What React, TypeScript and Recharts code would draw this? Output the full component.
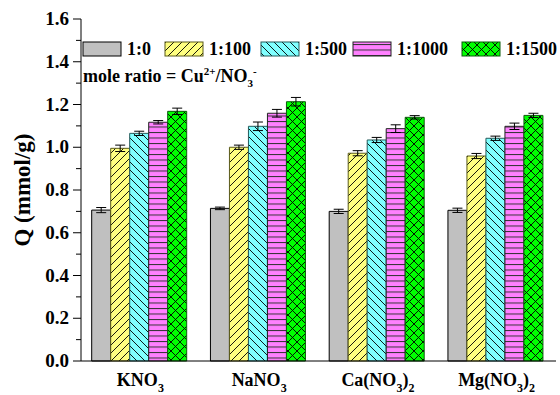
import React from 'react';
import { BarChart, Bar, XAxis, YAxis, ErrorBar, Legend } from 'recharts';

const salts = ['KNO3', 'NaNO3', 'Ca(NO3)2', 'Mg(NO3)2'];

// Q (mmol/g) for each mole ratio Cu2+/NO3-
const ratio0 = [0.706, 0.714, 0.700, 0.705];
const ratio100 = [0.995, 1.000, 0.972, 0.959];
const ratio500 = [1.065, 1.098, 1.034, 1.042];
const ratio1000 = [1.117, 1.159, 1.087, 1.098];
const ratio1500 = [1.168, 1.213, 1.140, 1.149];

const err0 = [0.012, 0.006, 0.010, 0.010];
const err100 = [0.015, 0.010, 0.012, 0.012];
const err500 = [0.010, 0.020, 0.012, 0.010];
const err1000 = [0.008, 0.018, 0.018, 0.015];
const err1500 = [0.015, 0.020, 0.008, 0.010];

const yTicks = [0, 0.1, 0.2, 0.3, 0.4, 0.5, 0.6, 0.7, 0.8, 0.9, 1.0, 1.1, 1.2, 1.3, 1.4, 1.5, 1.6];

const data = salts.map((salt, i) => ({
    salt,
    r0: ratio0[i], e0: err0[i],
    r100: ratio100[i], e100: err100[i],
    r500: ratio500[i], e500: err500[i],
    r1000: ratio1000[i], e1000: err1000[i],
    r1500: ratio1500[i], e1500: err1500[i],
}));

const series = [
    { key: 'r0', err: 'e0', name: '1:0', fill: '#C0C0C0', stroke: '#000000' },
    { key: 'r100', err: 'e100', name: '1:100', fill: 'url(#pYellow)', stroke: '#5a5a1a' },
    { key: 'r500', err: 'e500', name: '1:500', fill: 'url(#pCyan)', stroke: '#245a5a' },
    { key: 'r1000', err: 'e1000', name: '1:1000', fill: 'url(#pPink)', stroke: '#222222' },
    { key: 'r1500', err: 'e1500', name: '1:1500', fill: 'url(#pGreen)', stroke: '#0a5a0a' },
];

const FONT = '"Liberation Serif", "Times New Roman", serif';

// digits in the formula are subscripts
function FormulaTick({ x, y, payload }: any) {
    const parts = String(payload.value).match(/(\d+|[^\d]+)/g) || [];
    let shifted = false;
    return (
        <text x={x} y={y + 17} textAnchor="middle" fontFamily={FONT} fontWeight="bold" fontSize={18} fill="#000">
            {parts.map((p, i) => {
                const isSub = /^\d+$/.test(p);
                let dy = 0;
                if (isSub && !shifted) { dy = 6; shifted = true; }
                else if (!isSub && shifted) { dy = -6; shifted = false; }
                return (
                    <tspan key={i} dy={dy} fontSize={isSub ? 12 : 18}>{p}</tspan>
                );
            })}
        </text>
    );
}

// x here is the label anchor: tickSize (6) + tickMargin (6) left of the axis line
function QTick({ x, y, payload }: any) {
    const v = payload.value as number;
    const major = Math.round(v * 10) % 2 === 0;
    return (
        <g>
            <line x1={x + (major ? 4 : 7)} x2={x + 12} y1={y} y2={y} stroke="#000" strokeWidth={1} />
            {major && (
                <text x={x} y={y} dy={6} textAnchor="end" fontFamily={FONT} fontWeight="bold" fontSize={19} fill="#000">
                    {v.toFixed(1)}
                </text>
            )}
        </g>
    );
}

function RatioLegend() {
    const pos = [83, 165, 261, 353, 462];
    return (
        <svg width={560} height={100} style={{ display: 'block' }}>
            {series.map((s, i) => (
                <g key={s.key}>
                    <rect x={pos[i]} y={42} width={38} height={14} fill={s.fill} stroke={s.stroke} strokeWidth={1} />
                    <text x={pos[i] + 44} y={55} fontFamily={FONT} fontWeight="bold" fontSize={18} fill="#000">{s.name}</text>
                </g>
            ))}
            <text x={83} y={82} fontFamily={FONT} fontWeight="bold" fontSize={18} fill="#000">
                mole ratio = Cu
                <tspan dy={-7} fontSize={11}>2+</tspan>
                <tspan dy={7}>/NO</tspan>
                <tspan dy={5} fontSize={11}>3</tspan>
                <tspan dy={-12} fontSize={11}>-</tspan>
            </text>
        </svg>
    );
}

export default function App() {
    return (
        <div style={{ position: 'absolute', left: 0, top: 0, width: 560, height: 395, background: '#fff' }}>
            <BarChart
                width={560}
                height={395}
                data={data}
                margin={{ top: 19, right: 4, left: 31, bottom: 0 }}
                barCategoryGap="9%"
                barGap={0}
            >
                <defs>
                    <pattern id="pYellow" patternUnits="userSpaceOnUse" width={8} height={8}>
                        <rect width={8} height={8} fill="#FFFF80" />
                        <path d="M0,8 L8,0 M-2,2 L2,-2 M6,10 L10,6" stroke="#000" strokeWidth={0.9} />
                    </pattern>
                    <pattern id="pCyan" patternUnits="userSpaceOnUse" width={8} height={8}>
                        <rect width={8} height={8} fill="#80FFFF" />
                        <path d="M0,0 L8,8 M-2,6 L2,10 M6,-2 L10,2" stroke="#000" strokeWidth={0.9} />
                    </pattern>
                    <pattern id="pPink" patternUnits="userSpaceOnUse" width={8} height={5.5}>
                        <rect width={8} height={5.5} fill="#FF80FF" />
                        <line x1={0} x2={8} y1={0.5} y2={0.5} stroke="#333" strokeWidth={1} />
                    </pattern>
                    <pattern id="pGreen" patternUnits="userSpaceOnUse" width={9} height={9}>
                        <rect width={9} height={9} fill="#00FF00" />
                        <path d="M0,9 L9,0 M-2,2 L2,-2 M7,11 L11,7 M0,0 L9,9 M-2,7 L2,11 M7,-2 L11,2" stroke="#000" strokeWidth={0.9} />
                    </pattern>
                </defs>
                <XAxis
                    dataKey="salt"
                    height={34}
                    axisLine={{ stroke: '#000' }}
                    tickLine={false}
                    tickMargin={2}
                    tick={<FormulaTick />}
                    interval={0}
                />
                <XAxis xAxisId="top" dataKey="salt" orientation="top" height={0} axisLine={{ stroke: '#000' }} tick={false} tickLine={false} />
                <YAxis
                    domain={[0, 1.6]}
                    ticks={yTicks}
                    width={50}
                    axisLine={{ stroke: '#000' }}
                    tickLine={false}
                    tickSize={6}
                    tickMargin={6}
                    tick={<QTick />}
                    interval={0}
                />
                <YAxis yAxisId="right" orientation="right" domain={[0, 1.6]} width={0} axisLine={{ stroke: '#000' }} tick={false} tickLine={false} />
                <Legend
                    content={<RatioLegend />}
                    layout="vertical"
                    align="center"
                    verticalAlign="middle"
                    wrapperStyle={{ left: 0, top: 0, width: 560, height: 100 }}
                />
                {series.map((s) => (
                    <Bar key={s.key} dataKey={s.key} name={s.name} fill={s.fill} stroke={s.stroke} strokeWidth={1} isAnimationActive={false}>
                        <ErrorBar dataKey={s.err} width={5} stroke="#000" strokeWidth={1} />
                    </Bar>
                ))}
                <text x={22} y={190} transform="rotate(-90 22 190)" textAnchor="middle" dominantBaseline="central" fontFamily={FONT} fontWeight="bold" fontSize={23} fill="#000">
                    Q (mmol/g)
                </text>
            </BarChart>
        </div>
    );
}
